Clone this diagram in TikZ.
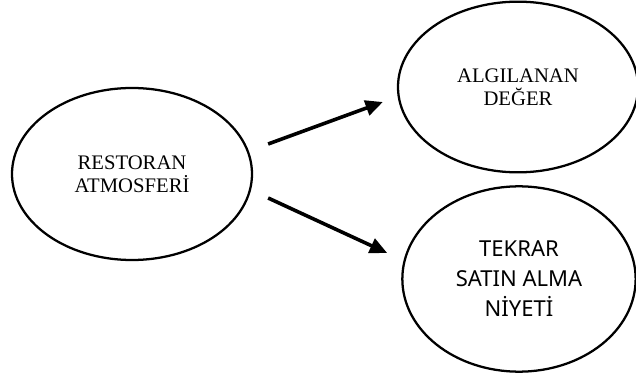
\documentclass[tikz,border=0pt]{standalone}
\usepackage{fontspec}
\setmainfont{Liberation Serif}
\newfontfamily\nsans{Noto Sans}
\usetikzlibrary{shapes.geometric, arrows.meta, calc}

\begin{document}
\begin{tikzpicture}[
	x=0.75pt, y=-0.75pt,
	% Ellipse styles
	oval/.style={ellipse, draw=black, line width=1.7pt, inner sep=0pt, align=center},
	serif label/.style={font=\fontsize{15.5}{17.5}\selectfont},
	sans label/.style={font=\nsans\fontsize{16.5}{22.5}\selectfont},
	% Arrow style
	arr/.style={line width=2.7pt, -{Triangle[length=13pt, width=11.5pt]}}
	]
	
	\useasboundingbox (0,0) rectangle (636,374);
	
	% ==============================================================================
	% ELLIPSES
	% ==============================================================================
	\node[oval, serif label, minimum width=180pt, minimum height=129pt] (atm) at (132,174) {RESTORAN\\ATMOSFERİ};
	\node[oval, serif label, minimum width=180pt, minimum height=128pt] (deger) at (518,87) {ALGILANAN\\DEĞER};
	\node[oval, sans label, minimum width=175pt, minimum height=139pt] (niyet) at (519,279) {TEKRAR\\SATIN ALMA\\NİYETİ};
	
	% ==============================================================================
	% ARROWS
	% ==============================================================================
	\draw[arr] ($(atm.east)+(15,-30)$) -- ($(deger.west)+(-14,15)$);
	\draw[arr] ($(atm.east)+(15,24)$) -- ($(niyet.west)+(-14,-26)$);
	
\end{tikzpicture}
\end{document}
